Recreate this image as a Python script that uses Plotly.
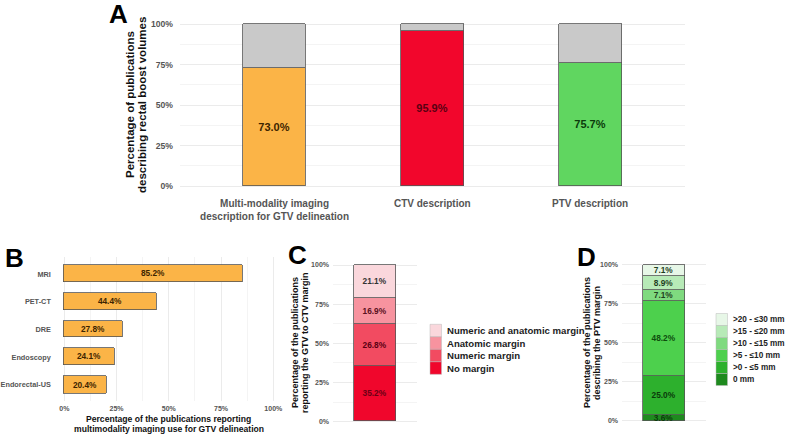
import plotly.graph_objects as go

# ---------------- data ----------------
A_categories = ["Multi-modality imaging<br>description for GTV delineation",
                "CTV description", "PTV description"]
A_values = [73.0, 95.9, 75.7]

B_modalities = ["MRI", "PET-CT", "DRE", "Endoscopy", "Endorectal-US"]
B_values = [85.2, 44.4, 27.8, 24.1, 20.4]

C_categories = ["No margin", "Numeric margin", "Anatomic margin", "Numeric and anatomic margin"]
C_values = [35.2, 26.8, 16.9, 21.1]

D_categories = ["0 mm", ">0 - ≤5 mm", ">5 - ≤10 mm", ">10 - ≤15 mm", ">15 - ≤20 mm", ">20 - ≤30 mm"]
D_values = [3.6, 25.0, 48.2, 7.1, 8.9, 7.1]

pct_ticks = [0, 25, 50, 75, 100]
pct_ticktext = ["0%", "25%", "50%", "75%", "100%"]

# ---------------- styles ----------------
W, H = 789, 434
FONT = "Liberation Sans, Arial, sans-serif"
A_colors = ["#FBB447", "#F2062C", "#60D660"]
A_text_colors = ["#3d2400", "#5a0012", "#0b3b0b"]
GREY = "#C9C9C9"
B_color = "#FBB447"
C_colors = ["#F0062C", "#F24B61", "#F7939F", "#FAD7DC"]
C_text_colors = ["#6a0014", "#5a0012", "#5a1020", "#333333"]
D_colors = ["#1E8A1E", "#2DB02D", "#4DD04D", "#7FDA7F", "#B7EAB7", "#E7F7E7"]
D_text_colors = ["#0b3b0b", "#0b3b0b", "#0d4d0d", "#1f3f1f", "#1f3f1f", "#1f3f1f"]
OUTLINE = dict(color="#555555", width=0.8)
GRID = "#EBEBEB"
MINOR = "#F4F4F4"
TICKCOL = "#555555"


def fx(p):
    return p / W


def fy(p):
    return 1 - p / H


fig = go.Figure()

# ---------- Panel A ----------
fig.add_trace(go.Bar(
    x=list(range(len(A_categories))), y=A_values, width=0.4,
    marker=dict(color=A_colors, line=OUTLINE),
    text=[f"{v:.1f}%" for v in A_values], textposition="inside",
    insidetextanchor="middle", textangle=0, constraintext="none",
    insidetextfont=dict(family=FONT, size=11, color=A_text_colors, weight="bold"),
    xaxis="x", yaxis="y", hoverinfo="skip"))
fig.add_trace(go.Bar(
    x=list(range(len(A_categories))), y=[100 - v for v in A_values], width=0.4,
    marker=dict(color=GREY, line=OUTLINE),
    xaxis="x", yaxis="y", hoverinfo="skip"))

# ---------- Panel B ----------
fig.add_trace(go.Bar(
    x=B_values, y=list(range(len(B_modalities))), orientation="h", width=0.6,
    marker=dict(color=B_color, line=OUTLINE),
    text=[f"{v:.1f}%" for v in B_values], textposition="inside",
    insidetextanchor="middle", textangle=0, constraintext="none",
    insidetextfont=dict(family=FONT, size=8.3, color="#3d2400", weight="bold"),
    xaxis="x2", yaxis="y2", hoverinfo="skip"))

# ---------- Panel C ----------
for name, v, c, tc in zip(C_categories, C_values, C_colors, C_text_colors):
    fig.add_trace(go.Bar(
        x=[0], y=[v], width=0.6, name=name,
        marker=dict(color=c, line=OUTLINE),
        text=[f"{v:.1f}%"], textposition="inside",
        insidetextanchor="middle", textangle=0, constraintext="none",
        insidetextfont=dict(family=FONT, size=8.3, color=tc, weight="bold"),
        xaxis="x3", yaxis="y3", hoverinfo="skip"))

# ---------- Panel D ----------
for name, v, c, tc in zip(D_categories, D_values, D_colors, D_text_colors):
    fig.add_trace(go.Bar(
        x=[0], y=[v], width=0.6, name=name,
        marker=dict(color=c, line=OUTLINE),
        text=[f"{v:.1f}%"], textposition="inside",
        insidetextanchor="middle", textangle=0, constraintext="none",
        insidetextfont=dict(family=FONT, size=8.3, color=tc, weight="bold"),
        xaxis="x4", yaxis="y4", hoverinfo="skip"))


def pct_axis(domain, size, anchor, standoff=4):
    return dict(domain=domain, range=[-5, 105], anchor=anchor,
                tickmode="array", tickvals=pct_ticks, ticktext=pct_ticktext,
                showgrid=True, gridcolor=GRID, gridwidth=0.8,
                minor=dict(tickmode="linear", tick0=0, dtick=12.5, showgrid=True,
                           gridcolor=MINOR, gridwidth=0.6),
                zeroline=False, showline=False, ticks="",
                ticklabelstandoff=standoff,
                tickfont=dict(family=FONT, size=size, color=TICKCOL, weight="bold"),
                fixedrange=True)


layout = dict(
    width=W, height=H, margin=dict(l=0, r=0, t=0, b=0),
    paper_bgcolor="white", plot_bgcolor="white",
    barmode="stack", showlegend=False, bargap=0,
    font=dict(family=FONT),
    # A
    xaxis=dict(domain=[fx(179.9), fx(684.7)], range=[-0.6, 2.6], anchor="y",
               tickmode="array", tickvals=list(range(len(A_categories))),
               ticktext=A_categories, showgrid=False, zeroline=False, ticks="",
               ticklabelstandoff=2,
               tickfont=dict(family=FONT, size=10, color=TICKCOL, weight="bold")),
    yaxis=pct_axis([fy(194.1), fy(15.9)], 8.6, "x", 6),
    # B
    xaxis2=pct_axis([fx(53.85), fx(283.75)], 7, "y2", 2),
    yaxis2=dict(domain=[fy(401.3), fy(257.4)], range=[4.6, -0.6], anchor="x2",
                tickmode="array", tickvals=list(range(len(B_modalities))),
                ticktext=B_modalities, showgrid=False, zeroline=False, ticks="",
                ticklabelstandoff=2,
                tickfont=dict(family=FONT, size=7.3, color=TICKCOL, weight="bold")),
    # C
    xaxis3=dict(domain=[fx(333), fx(417)], range=[-0.6, 0.6], anchor="y3",
                showticklabels=False, showgrid=False, zeroline=False, ticks=""),
    yaxis3=pct_axis([fy(429.5), fy(257.2)], 7, "x3", 3),
    # D
    xaxis4=dict(domain=[fx(622), fx(706)], range=[-0.6, 0.6], anchor="y4",
                showticklabels=False, showgrid=False, zeroline=False, ticks=""),
    yaxis4=pct_axis([fy(428.5), fy(257.2)], 7, "x4", 3),
)
fig.update_layout(**layout)
fig.update_xaxes(fixedrange=True)
fig.update_yaxes(fixedrange=True)

ann = []
shapes = []


def text(x, y, s, size, angle=0, anchor="center", color="#111111", weight="bold", fam=FONT):
    ann.append(dict(x=fx(x), y=fy(y), xref="paper", yref="paper", text=s,
                    showarrow=False, textangle=angle, xanchor=anchor, yanchor="middle",
                    font=dict(family=fam, size=size, color=color, weight=weight)))


# panel letters
text(118, 14, "A", 26, color="#000000")
text(14, 258, "B", 26, color="#000000")
text(297, 255, "C", 26, color="#000000")
text(586, 257, "D", 26, color="#000000")

# axis titles
text(130, 105, "Percentage of publications", 11.5, angle=-90)
text(142, 105, "describing rectal boost volumes", 11.5, angle=-90)
text(168.5, 419, "Percentage of the publications reporting", 8.6)
text(168.5, 428.5, "multimodality imaging use for GTV delineation", 8.6)
text(295, 343, "Percentage of the publications", 9, angle=-90)
text(305, 343, "reporting the GTV to CTV margin", 9, angle=-90)
text(587, 343, "Percentage of the publications", 9, angle=-90)
text(597, 343, "describing the PTV margin", 9, angle=-90)

# legend C (top item = top of stack)
for i, (name, c) in enumerate(zip(C_categories[::-1], C_colors[::-1])):
    top = 324.3 + 12.5 * i
    shapes.append(dict(type="rect", xref="paper", yref="paper",
                       x0=fx(430), x1=fx(441.5), y0=fy(top + 12.5), y1=fy(top),
                       fillcolor=c, line=dict(color="#BBBBBB", width=0.5)))
    text(445, top + 6.25, name, 9.6, anchor="left", color="#222222")

# legend D
for i, (name, c) in enumerate(zip(D_categories[::-1], D_colors[::-1])):
    top = 313.5 + 12 * i
    shapes.append(dict(type="rect", xref="paper", yref="paper",
                       x0=fx(716), x1=fx(727.5), y0=fy(top + 12), y1=fy(top),
                       fillcolor=c, line=dict(color="#BBBBBB", width=0.5)))
    text(730.5, top + 6, name, 8.2, anchor="left", color="#222222")

fig.update_layout(annotations=ann, shapes=shapes)
fig.write_html("out.html")
